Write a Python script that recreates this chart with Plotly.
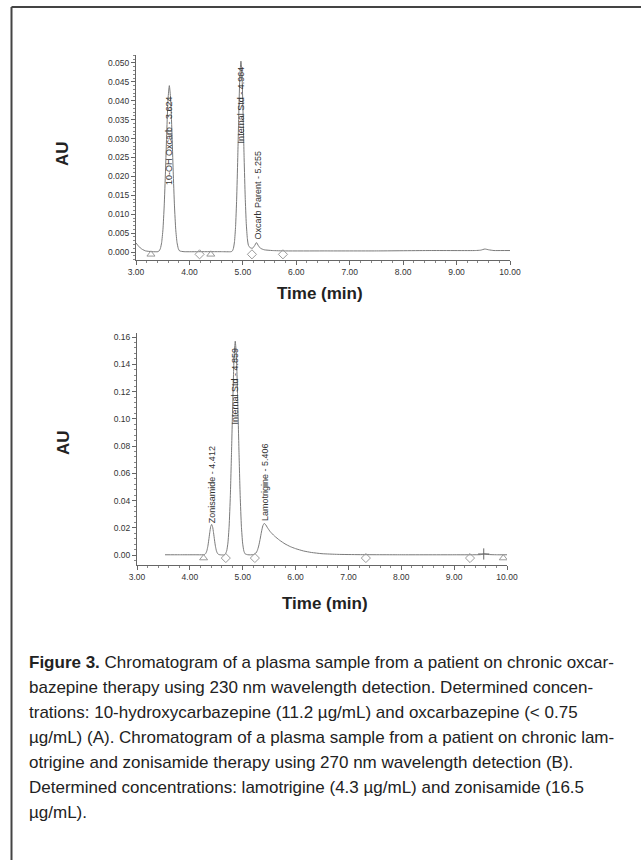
import plotly.graph_objects as go

# ---------------- data ----------------
# Panel A: chromatogram, 230 nm
a_time = [3.00, 3.04, 3.08, 3.12, 3.18, 3.30, 3.41, 3.432, 3.456, 3.480, 3.504, 3.528, 3.552,
          3.576, 3.600, 3.624, 3.648, 3.672, 3.696, 3.720, 3.744, 3.768, 3.792, 3.816, 3.90,
          4.20, 4.60, 4.78, 4.804, 4.824, 4.844, 4.864, 4.884, 4.904, 4.924, 4.944, 4.964,
          4.984, 5.004, 5.024, 5.044, 5.064, 5.084, 5.104, 5.14, 5.18, 5.22, 5.255, 5.29, 5.33,
          5.40, 5.55, 5.80, 6.50, 7.50, 8.50, 9.35, 9.45, 9.53, 9.60, 9.70, 9.85, 10.00]
a_au = [0.0024, 0.0017, 0.0011, 0.0007, 0.0003, 0.0001, 0.0001, 0.0003, 0.0009, 0.0025, 0.0059,
        0.0122, 0.0214, 0.0319, 0.0406, 0.0440, 0.0406, 0.0319, 0.0214, 0.0122, 0.0059, 0.0025,
        0.0009, 0.0003, 0.0001, 0.0001, 0.0001, 0.0001, 0.0003, 0.0010, 0.0028, 0.0068, 0.0140,
        0.0246, 0.0367, 0.0466, 0.0505, 0.0466, 0.0367, 0.0246, 0.0145, 0.0075, 0.0036, 0.0018,
        0.0011, 0.0010, 0.0017, 0.0025, 0.0017, 0.0010, 0.0006, 0.0004, 0.0003, 0.0003, 0.0003,
        0.0004, 0.0004, 0.0005, 0.0008, 0.0006, 0.0004, 0.0004, 0.0004]
a_tri_time = [3.28, 4.40]
a_dia_time = [4.19, 5.17, 5.75]
a_mark_au = -0.0006
a_peaks = ["10-OH Oxcarb - 3.624", "Internal Std - 4.964", "Oxcarb Parent - 5.255"]
a_peak_time = [3.615, 4.955, 5.275]
a_label_au = [0.0296, 0.0389, 0.0151]

# Panel B: chromatogram, 270 nm
b_time = [3.53, 3.80, 4.10, 4.25, 4.268, 4.286, 4.304, 4.322, 4.340, 4.358, 4.376, 4.394, 4.412,
          4.430, 4.448, 4.466, 4.484, 4.502, 4.520, 4.538, 4.556, 4.60, 4.65, 4.673, 4.697,
          4.720, 4.743, 4.766, 4.789, 4.813, 4.836, 4.859, 4.882, 4.905, 4.929, 4.952, 4.975,
          4.998, 5.021, 5.045, 5.10, 5.198, 5.250, 5.276, 5.302, 5.328, 5.354, 5.380, 5.406,
          5.43, 5.47, 5.52, 5.60, 5.70, 5.80, 5.90, 6.00, 6.15, 6.30, 6.50, 6.80, 7.20, 8.00,
          9.00, 9.50, 9.57, 9.64, 9.80, 10.00]
b_au = [0.0002, 0.0002, 0.0002, 0.0002, 0.0003, 0.0006, 0.0014, 0.0032, 0.0064, 0.0111, 0.0164,
        0.0208, 0.0225, 0.0208, 0.0164, 0.0111, 0.0064, 0.0032, 0.0014, 0.0006, 0.0003, 0.0001,
        0.0001, 0.0009, 0.0031, 0.0088, 0.0212, 0.0436, 0.0765, 0.1140, 0.1449, 0.1570, 0.1449,
        0.1140, 0.0765, 0.0436, 0.0212, 0.0088, 0.0031, 0.0009, 0.0002, 0.0003, 0.0015, 0.0033,
        0.0066, 0.0114, 0.0169, 0.0214, 0.0232, 0.0225, 0.0200, 0.0172, 0.0140, 0.0108, 0.0082,
        0.0062, 0.0047, 0.0030, 0.0019, 0.0010, 0.0005, 0.0003, 0.0002, 0.0002, 0.0003, 0.0008,
        0.0004, 0.0002, 0.0002]
b_tri_time = [4.26, 9.93]
b_dia_time = [4.68, 5.23, 7.33, 9.30]
b_cross_time = [9.56]
b_mark_au = -0.0022
b_peaks = ["Zonisamide - 4.412", "Internal Std - 4.859", "Lamotrigine - 5.406"]
b_peak_time = [4.41, 4.86, 5.42]
b_label_au = [0.0517, 0.124, 0.0536]

x_ticks = [3, 4, 5, 6, 7, 8, 9, 10]
x_ticktext = ["3.00", "4.00", "5.00", "6.00", "7.00", "8.00", "9.00", "10.00"]

caption_lines = [
    "<b>Figure 3.</b> Chromatogram of a plasma sample from a patient on chronic oxcar-",
    "bazepine therapy using 230 nm wavelength detection. Determined concen-",
    "trations: 10-hydroxycarbazepine (11.2 µg/mL) and oxcarbazepine (&lt; 0.75",
    "µg/mL) (A). Chromatogram of a plasma sample from a patient on chronic lam-",
    "otrigine and zonisamide therapy using 270 nm wavelength detection (B).",
    "Determined concentrations: lamotrigine (4.3 µg/mL) and zonisamide (16.5",
    "µg/mL).",
]

# ---------------- figure ----------------
W, H = 641, 860
LINE = "#7a7a7a"
MARK = "#9a9a9a"
TICKFONT = dict(family="Liberation Sans, Arial, sans-serif", size=8.5, color="#333")
LABELFONT = dict(family="Liberation Sans, Arial, sans-serif", size=9, color="#333")
TITLEFONT = dict(family="Liberation Sans, Arial, sans-serif", size=17, color="#222")
CAPFONT = dict(family="Liberation Sans, Arial, sans-serif", size=17, color="#222")

fig = go.Figure()

def add_panel(t, au, tri, dia, mark_au, xa, ya):
    fig.add_trace(go.Scatter(x=t, y=au, mode="lines", xaxis=xa, yaxis=ya,
                             line=dict(color=LINE, width=1, shape="spline", smoothing=0.5),
                             showlegend=False, hoverinfo="skip"))
    fig.add_trace(go.Scatter(x=tri, y=[mark_au] * len(tri), mode="markers", xaxis=xa, yaxis=ya,
                             marker=dict(symbol="triangle-up-open", size=7, color=MARK,
                                         line=dict(width=1)),
                             showlegend=False, hoverinfo="skip"))
    fig.add_trace(go.Scatter(x=dia, y=[mark_au] * len(dia), mode="markers", xaxis=xa, yaxis=ya,
                             marker=dict(symbol="diamond-open", size=7, color=MARK,
                                         line=dict(width=1)),
                             showlegend=False, hoverinfo="skip"))

add_panel(a_time, a_au, a_tri_time, a_dia_time, a_mark_au, "x", "y")
add_panel(b_time, b_au, b_tri_time, b_dia_time, b_mark_au, "x2", "y2")
fig.add_trace(go.Scatter(x=b_cross_time, y=[0.0008], mode="markers", xaxis="x2", yaxis="y2",
                         marker=dict(symbol="cross-thin-open", size=8, color="#666",
                                     line=dict(width=1, color="#666")),
                         showlegend=False, hoverinfo="skip"))

common_axis = dict(showline=True, linecolor="#666", linewidth=1, ticks="outside", ticklen=4,
                   tickcolor="#666", showgrid=False, zeroline=False, tickfont=TICKFONT,
                   fixedrange=True, automargin=False)

fig.update_layout(
    width=W, height=H, margin=dict(l=0, r=0, t=0, b=0, pad=0),
    paper_bgcolor="white", plot_bgcolor="white", showlegend=False,
    xaxis=dict(domain=[136 / W, 510 / W], range=[3, 10], tickvals=x_ticks, ticktext=x_ticktext,
               minor=dict(dtick=0.2, ticks="outside", ticklen=2, tickcolor="#888"),
               anchor="y", **common_axis),
    yaxis=dict(domain=[1 - 260 / H, 1 - 55 / H], range=[-0.0021, 0.0521], dtick=0.005,
               tick0=0, tickformat=".3f",
               minor=dict(dtick=0.001, ticks="outside", ticklen=2, tickcolor="#888"),
               anchor="x", **common_axis),
    xaxis2=dict(domain=[137 / W, 507 / W], range=[3, 10], tickvals=x_ticks, ticktext=x_ticktext,
                minor=dict(dtick=0.2, ticks="outside", ticklen=2, tickcolor="#888"),
                anchor="y2", **common_axis),
    yaxis2=dict(domain=[1 - 565 / H, 1 - 333 / H], range=[-0.0073, 0.163], dtick=0.02,
                tick0=0, tickformat=".2f",
                minor=dict(dtick=0.004, ticks="outside", ticklen=2, tickcolor="#888"),
                anchor="x2", **common_axis),
)

ann = []
for txt, xt, yl in zip(a_peaks, a_peak_time, a_label_au):
    ann.append(dict(text=txt, x=xt, y=yl, xref="x", yref="y", showarrow=False, textangle=-90,
                    font=LABELFONT, xanchor="center", yanchor="middle"))
for txt, xt, yl in zip(b_peaks, b_peak_time, b_label_au):
    ann.append(dict(text=txt, x=xt, y=yl, xref="x2", yref="y2", showarrow=False, textangle=-90,
                    font=LABELFONT, xanchor="center", yanchor="middle"))

for yc in (154, 443):
    ann.append(dict(text="<b>AU</b>", x=63 / W, y=1 - yc / H, xref="paper", yref="paper",
                    showarrow=False, textangle=-90, font=TITLEFONT,
                    xanchor="center", yanchor="middle"))
for xc, yc in ((320, 293), (325, 603)):
    ann.append(dict(text="<b>Time (min)</b>", x=xc / W, y=1 - yc / H, xref="paper",
                    yref="paper", showarrow=False, font=TITLEFONT,
                    xanchor="center", yanchor="middle"))

for i, line in enumerate(caption_lines):
    yc = 662 + 25 * i
    ann.append(dict(text=line, x=27 / W, y=1 - yc / H, xref="paper", yref="paper",
                    showarrow=False, font=CAPFONT, xanchor="left", yanchor="middle",
                    align="left"))

fig.update_layout(annotations=ann)

# frame around the figure (top and left edges visible)
fig.update_layout(shapes=[
    dict(type="line", xref="paper", yref="paper", x0=11.5 / W, x1=1.0, y0=1 - 7 / H, y1=1 - 7 / H,
         line=dict(color="#444", width=2)),
    dict(type="line", xref="paper", yref="paper", x0=11.5 / W, x1=11.5 / W, y0=1 - 7 / H, y1=0,
         line=dict(color="#444", width=2)),
])

fig.write_html(
    "out.html",
    config={"displayModeBar": False, "staticPlot": True},
    post_script="document.body.style.margin='0';document.body.style.overflow='hidden';",
)
